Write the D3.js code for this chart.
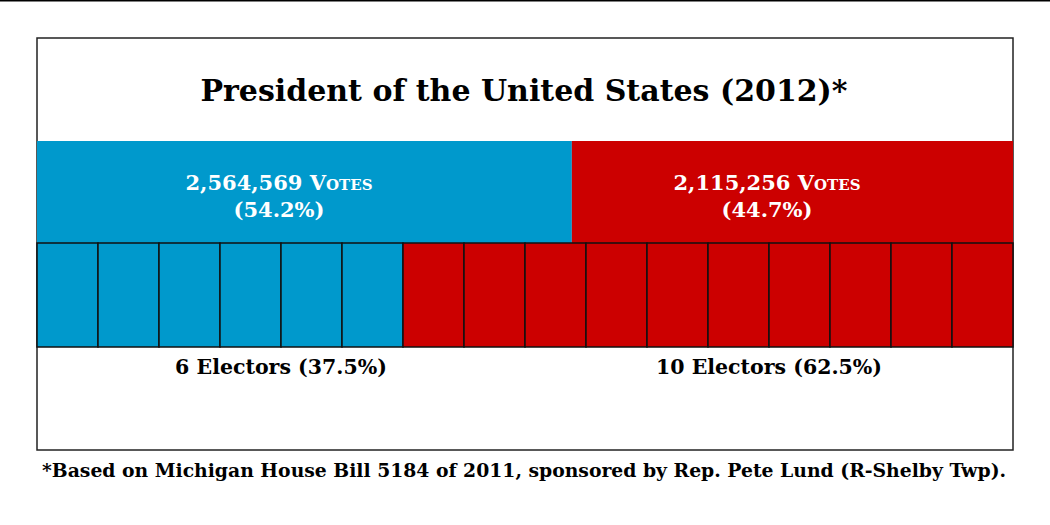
<!DOCTYPE html>
<html>
<head>
<meta charset="utf-8">
<script src="https://cdn.jsdelivr.net/npm/d3@7"></script>
<style>
  body { margin: 0; background: #fff; }
  svg text { font-family: "DejaVu Serif", "Liberation Serif", serif; font-weight: bold; }
</style>
</head>
<body>
<svg id="chart" width="1050" height="525"></svg>
<script>
var parties = ["Obama", "Romney"];
var votes = [2564569, 2115256];
var votePct = ["54.2%", "44.7%"];
var electors = [6, 10];
var elecPct = ["37.5%", "62.5%"];
var colors = ["#0099cc", "#cc0000"];

var svg = d3.select("#chart"),
    box = {left: 37, right: 1013, top: 38, bottom: 450},
    voteRow = {top: 141, bottom: 243},
    elecRow = {top: 243, bottom: 347};

// top rule
svg.append("line")
    .attr("x1", 0).attr("x2", 1050).attr("y1", 0.5).attr("y2", 0.5)
    .attr("stroke", "#000").attr("stroke-width", 2);

svg.append("rect")
    .attr("x", box.left).attr("y", box.top)
    .attr("width", box.right - box.left).attr("height", box.bottom - box.top)
    .attr("fill", "#fff").attr("stroke", "#222").attr("stroke-width", 1.5);

var x = d3.scaleLinear()
    .domain([0, d3.sum(votes)])
    .range([box.left, box.right]);

var cum = d3.cumsum(votes);
var voteData = votes.map(function(v, i) {
  return {v: v, x0: cum[i] - v, x1: cum[i], pct: votePct[i], c: colors[i]};
});

svg.selectAll(".vote").data(voteData).enter().append("rect")
    .attr("class", "vote")
    .attr("x", function(d) { return x(d.x0); })
    .attr("width", function(d) { return x(d.x1) - x(d.x0); })
    .attr("y", voteRow.top)
    .attr("height", voteRow.bottom - voteRow.top)
    .attr("fill", function(d) { return d.c; });

// halves for labels
var half = d3.scaleBand().domain(parties).range([box.left, box.right]);

var vt = svg.selectAll(".vlab").data(voteData).enter().append("text")
    .attr("class", "vlab")
    .attr("text-anchor", "middle")
    .attr("fill", "#fff")
    .style("font-size", "21px");
vt.append("tspan")
    .attr("x", function(d, i) { return half(parties[i]) + half.bandwidth() / 2 - 2; })
    .attr("y", 190)
    .text(function(d) { return d3.format(",")(d.v) + " "; })
    .append("tspan").style("font-variant", "small-caps").text("Votes");
vt.append("tspan")
    .attr("x", function(d, i) { return half(parties[i]) + half.bandwidth() / 2 - 2; })
    .attr("y", 217)
    .text(function(d) { return "(" + d.pct + ")"; });

// elector cells
var cells = [];
electors.forEach(function(n, i) {
  for (var k = 0; k < n; k++) cells.push({c: colors[i]});
});
var ex = d3.scaleBand().domain(d3.range(cells.length)).range([box.left, box.right]);

svg.selectAll(".cell").data(cells).enter().append("rect")
    .attr("class", "cell")
    .attr("x", function(d, i) { return ex(i); })
    .attr("width", ex.bandwidth())
    .attr("y", elecRow.top)
    .attr("height", elecRow.bottom - elecRow.top)
    .attr("fill", function(d) { return d.c; })
    .attr("stroke", "#111").attr("stroke-width", 1.5);

svg.selectAll(".elab").data(electors).enter().append("text")
    .attr("class", "elab")
    .attr("x", function(d, i) { return half(parties[i]) + half.bandwidth() / 2; })
    .attr("y", 374)
    .attr("text-anchor", "middle")
    .attr("fill", "#000")
    .style("font-size", "20.5px")
    .text(function(d, i) { return d + " Electors (" + elecPct[i] + ")"; });

svg.append("text")
    .attr("x", 524).attr("y", 101)
    .attr("text-anchor", "middle")
    .style("font-size", "30px")
    .text("President of the United States (2012)*");

svg.append("text")
    .attr("x", 524).attr("y", 477)
    .attr("text-anchor", "middle")
    .style("font-size", "18.8px")
    .text("*Based on Michigan House Bill 5184 of 2011, sponsored by Rep. Pete Lund (R-Shelby Twp).");
</script>
</body>
</html>
